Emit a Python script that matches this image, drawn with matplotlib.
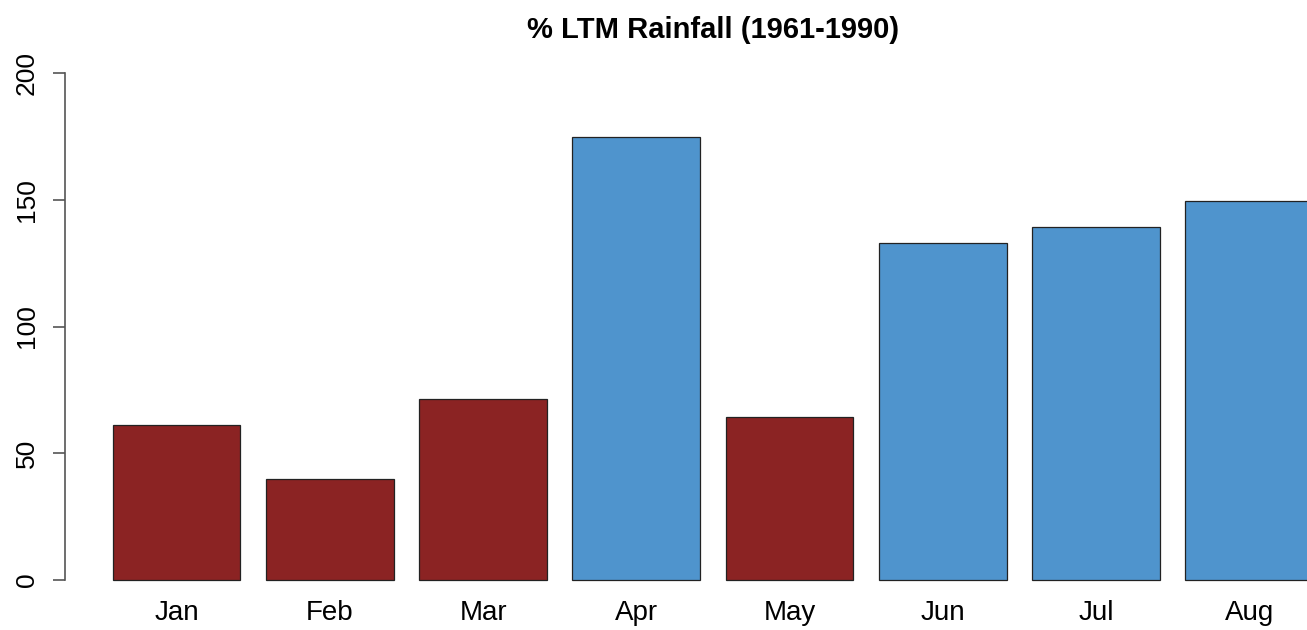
import matplotlib.pyplot as plt

months = ["Jan", "Feb", "Mar", "Apr", "May", "Jun", "Jul", "Aug"]
pct_ltm = [61.1, 39.8, 71.4, 174.6, 64.4, 133.1, 139.1, 149.5]
yticks = [0, 50, 100, 150, 200]

# below 100% -> dry month (red), above -> wet month (blue)
colores = ["#8B2323" if v < 100 else "#4F94CD" for v in pct_ltm]

plt.rcParams["font.family"] = ["Liberation Sans", "DejaVu Sans"]

fig = plt.figure(figsize=(13.07, 6.30), dpi=100)
ax = fig.add_axes([0, 0, 1, 1])

# barplot estilo R: ancho 1, espacio 0.2
centros = [0.2 + 1.2 * i + 0.5 for i in range(len(months))]
ax.bar(centros, pct_ltm, width=1.0, color=colores, edgecolor="#222222", linewidth=0.9)

ax.set_xlim(-0.683, 9.552)
ax.set_ylim(-19.7, 228.8)

for s in ["top", "right", "bottom"]:
    ax.spines[s].set_visible(False)
ax.spines["left"].set_position(("data", -0.175))
ax.spines["left"].set_bounds(0, 200)
ax.spines["left"].set_color("#555555")
ax.spines["left"].set_linewidth(1.2)

ax.set_yticks(yticks)
ax.set_yticklabels([str(t) for t in yticks], rotation=90, va="center", fontsize=19)
ax.tick_params(axis="y", length=8.6, width=1.2, color="#555555", pad=10)
ax.set_xticks([])

for x, m in zip(centros, months):
    ax.annotate(m, (x, 0), xytext=(0, -23.5), textcoords="offset points",
                ha="center", va="center", fontsize=20)

fig.text(713 / 1307, 1 - 30 / 630, "% LTM Rainfall (1961-1990)",
         ha="center", va="center", fontsize=21, fontweight="bold")

fig.savefig("out.png", dpi=100)
